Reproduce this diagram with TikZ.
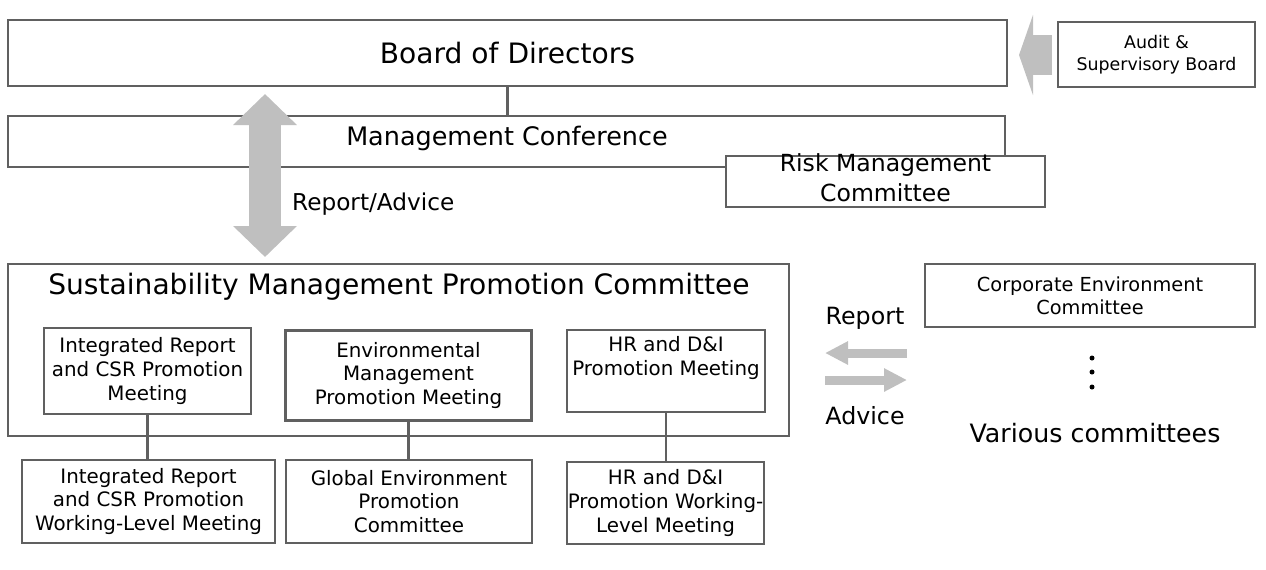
\documentclass[tikz,border=0pt]{standalone}
\usepackage{fontspec}
\setmainfont{DejaVu Sans}
\usepackage{color}
\definecolor{line-gray}{RGB}{96,96,96}
\definecolor{arrow-gray}{RGB}{191,191,191}
\usetikzlibrary{arrows.meta}

\begin{document}
\begin{tikzpicture}
[
  x=0.02cm, y=-0.02cm,
  box/.style={rectangle,draw=line-gray,line width=1.4pt,inner sep=0pt,align=center,fill=white},
  boxs/.style={box,font=\fontsize{11.3}{13.4}\selectfont},
  link/.style={draw=line-gray,line width=1.6pt},
  fat/.style={draw=arrow-gray,fill=arrow-gray},
  big/.style={font=\fontsize{14.4}{17}\selectfont},
]
\useasboundingbox (0,0) rectangle (1266,569);

\node[box,minimum width=19.98cm,minimum height=1.32cm,font=\fontsize{16}{19}\selectfont] (board) at (507.5,53) {Board of Directors};
\node[box,minimum width=3.94cm,minimum height=1.30cm,font=\fontsize{9.9}{12.6}\selectfont] (audit) at (1156.5,54.5) {Audit \&\\Supervisory Board};
\node[box,minimum width=19.94cm,minimum height=1.02cm] (mgmt) at (506.5,141.5) {};
\node[font=\fontsize{14.5}{17}\selectfont] (mgmt text) at (507,138) {Management Conference};
\node[box,minimum width=6.38cm,minimum height=1.02cm] (risk) at (885.5,181.5) {};
\node[align=center,font=\fontsize{13.4}{17}\selectfont] (risk text) at (885.5,178) {Risk Management\\Committee};
\draw[link] (board.south) -- (board.south |- mgmt.north);

\draw[fat,line width=0.8cm,-{Triangle[length=0.28cm,width=1.6cm]}] (1052,55) coordinate (audit arrow) -- (1019,55) coordinate (board arrow);

\coordinate (rep top) at (265,94);
\coordinate (rep bot) at (265,257);
\draw[fat,line width=0.64cm,{Triangle[length=0.62cm,width=1.24cm]}-{Triangle[length=0.62cm,width=1.24cm]}] (rep top) -- (rep bot);
\node[anchor=west,font=\fontsize{13.2}{15}\selectfont] (rep label) at (286,204) {Report/Advice};

\node[box,minimum width=15.62cm,minimum height=3.44cm] (smpc) at (398.5,350) {};
\node[font=\fontsize{16}{19}\selectfont] (smpc title) at (399,287) {Sustainability Management Promotion Committee};

\node[boxs,minimum width=4.14cm,minimum height=1.72cm] (irm) at (147.5,371) {Integrated Report\\and CSR Promotion\\Meeting};
\node[boxs,minimum width=4.92cm,minimum height=1.80cm] (emp) at (408.5,375.5) {Environmental\\Management\\Promotion Meeting};
\node[boxs,minimum width=3.96cm,minimum height=1.64cm] (hrm) at (666,371) {HR and D\&I\\Promotion Meeting\\\strut};

\node[boxs,minimum width=5.06cm,minimum height=1.66cm] (irw) at (148.5,501.5) {Integrated Report\\and CSR Promotion\\Working-Level Meeting};
\node[boxs,minimum width=4.92cm,minimum height=1.66cm] (gepc) at (409,501.5) {Global Environment\\Promotion\\Committee};
\node[boxs,minimum width=3.94cm,minimum height=1.64cm] (hrw) at (665.5,503) {HR and D\&I\\Promotion Working-\\Level Meeting};

\draw[link] (irm.south) -- (irm.south |- irw.north);
\draw[link] (emp.south) -- (emp.south |- gepc.north);
\draw[link] (hrm.south) -- (hrm.south |- hrw.north);

\node[box,minimum width=6.60cm,minimum height=1.26cm,font=\fontsize{11}{13}\selectfont] (corp) at (1090,295.5) {Corporate Environment\\Committee};
\node[font=\fontsize{13.5}{16}\selectfont] (report) at (865,318) {Report};
\node[font=\fontsize{13.5}{16}\selectfont] (advice) at (865,416) {Advice};
\coordinate (corp in) at (907,353);
\coordinate (smpc in) at (825,353);
\coordinate (corp out) at (907,380);
\coordinate (smpc out) at (825,380);
\draw[fat,line width=0.18cm,-{Triangle[length=0.46cm,width=0.44cm]}] (corp in) -- (smpc in);
\draw[fat,line width=0.18cm,-{Triangle[length=0.46cm,width=0.44cm]}] (smpc out) -- (corp out);

\fill (1092,358) circle[radius=0.05cm];
\fill (1092,372) circle[radius=0.05cm];
\fill (1092,387) circle[radius=0.05cm];
\node[big] (various) at (1095,433) {Various committees};
\end{tikzpicture}
\end{document}
